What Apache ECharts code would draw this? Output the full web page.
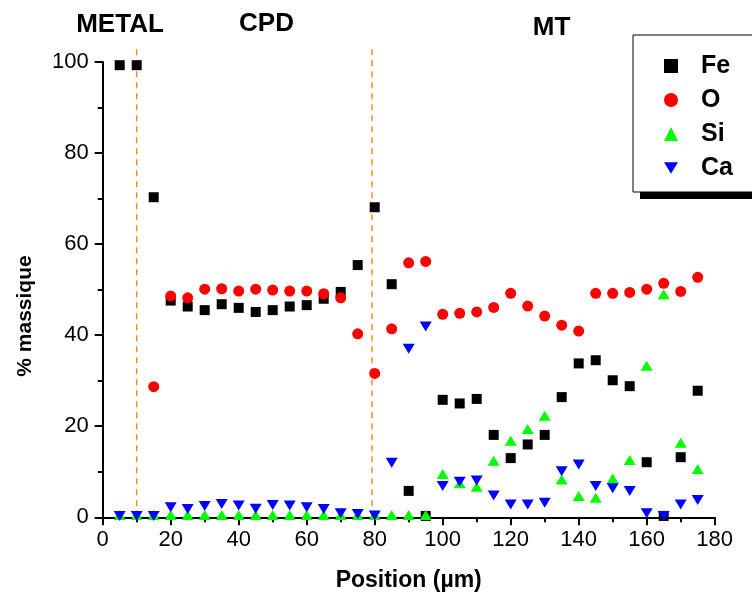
<!DOCTYPE html>
<html>
<head>
<meta charset="utf-8">
<script src="https://cdn.jsdelivr.net/npm/echarts@6/dist/echarts.min.js"></script>
<style>
html,body{margin:0;padding:0;background:#fff;}
#chart{width:752px;height:599px;}
</style>
</head>
<body>
<div id="chart"></div>
<script>
// ---- data ----
var positions = [5,10,15,20,25,30,35,40,45,50,55,60,65,70,75,80,85,90,95,100,105,110,115,120,125,130,135,140,145,150,155,160,165,170,175];
var fe = [99.3,99.3,70.3,47.6,46.3,45.5,46.8,46.0,45.1,45.5,46.3,46.6,48.0,49.5,55.4,68.1,51.2,5.8,0.3,25.8,25.0,26.0,18.1,13.0,16.0,18.1,26.4,33.8,34.5,30.1,28.8,12.1,0.3,13.2,27.8];
var o  = [null,null,28.7,48.6,48.2,50.1,50.2,49.7,50.1,49.9,49.7,49.7,49.1,48.2,40.3,31.6,41.4,55.9,56.2,44.6,44.8,45.1,46.1,49.2,46.4,44.2,42.2,40.9,49.2,49.2,49.4,50.1,51.4,49.6,52.7];
var si = [0.5,0.5,0.5,0.5,0.5,0.5,0.5,0.5,0.5,0.5,0.5,0.5,0.5,0.5,0.5,0.5,0.5,0.5,0.5,9.5,7.5,6.7,12.4,16.8,19.4,22.3,8.3,4.7,4.3,8.5,12.6,33.3,49.0,16.4,10.6];
var ca = [0.3,0.3,0.3,2.2,1.8,2.5,2.9,2.6,1.9,2.7,2.6,2.2,1.8,0.9,0.7,0.4,12.0,37.0,41.9,6.9,7.8,8.1,4.8,2.8,2.8,3.2,10.1,11.6,6.9,6.4,5.8,0.9,0.3,2.8,3.8];
var boundaries = [10, 79.2];
var regionLabels = ['METAL', 'CPD', 'MT'];
var xTicks = [0,20,40,60,80,100,120,140,160,180];
var yTicks = [0,20,40,60,80,100];

function pairs(arr){
  var out = [];
  for (var i = 0; i < positions.length; i++) {
    if (arr[i] !== null) out.push([positions[i], arr[i]]);
  }
  return out;
}

var FONT = 'Liberation Sans, Arial, sans-serif';
var chart = echarts.init(document.getElementById('chart'), null, {renderer:'canvas'});

var boundarySeries = boundaries.map(function(b){
  return {
    type:'line', data:[[b,0],[b,103]], clip:false, symbol:'none', silent:true,
    lineStyle:{color:'#FF8C1A', width:1.5, type:[6,5]}, z:1, legendHoverLink:false
  };
});

var option = {
  animation:false,
  backgroundColor:'#fff',
  grid:{left:102.7, right:37.3, top:62, bottom:81.7},
  xAxis:{
    type:'value', min:0, max:180, interval:20,
    axisLine:{show:true, onZero:false, lineStyle:{color:'#000', width:2}},
    axisTick:{show:true, length:8, lineStyle:{color:'#000', width:2}},
    minorTick:{show:true, splitNumber:2, length:5, lineStyle:{color:'#000', width:2}},
    splitLine:{show:false},
    axisLabel:{color:'#000', fontSize:22, fontFamily:FONT, margin:12,
      formatter:function(v){return xTicks.indexOf(v)>=0 ? String(v) : '';}},
    name:'Position (µm)', nameLocation:'middle', nameGap:52,
    nameTextStyle:{color:'#000', fontSize:23, fontWeight:'bold', fontFamily:FONT}
  },
  yAxis:{
    type:'value', min:0, max:100, interval:20,
    axisLine:{show:true, onZero:false, lineStyle:{color:'#000', width:2}},
    axisTick:{show:true, length:8, lineStyle:{color:'#000', width:2}},
    minorTick:{show:true, splitNumber:2, length:5, lineStyle:{color:'#000', width:2}},
    splitLine:{show:false},
    axisLabel:{color:'#000', fontSize:22, fontFamily:FONT, margin:14,
      formatter:function(v){return yTicks.indexOf(v)>=0 ? String(v) : '';}}
  },
  legend:{
    orient:'vertical', left:659, top:48,
    itemWidth:14, itemHeight:14, itemGap:8,
    data:['Fe','O','Si','Ca'],
    textStyle:{color:'#000', fontSize:25, fontWeight:'bold', fontFamily:FONT, lineHeight:26, padding:[0,0,0,18]}
  },
  graphic:[
    {type:'rect', shape:{x:640, y:42, width:130, height:157}, style:{fill:'#000'}, z:0, silent:true},
    {type:'rect', shape:{x:633, y:35, width:130, height:157}, style:{fill:'#fff', stroke:'#000', lineWidth:1}, z:0, silent:true},
    {type:'text', style:{text:regionLabels[0], x:120, y:25, textAlign:'center', textVerticalAlign:'middle', font:'bold 26px '+FONT, fill:'#000'}},
    {type:'text', style:{text:regionLabels[1], x:266.5, y:24, textAlign:'center', textVerticalAlign:'middle', font:'bold 26px '+FONT, fill:'#000'}},
    {type:'text', style:{text:regionLabels[2], x:551.5, y:28, textAlign:'center', textVerticalAlign:'middle', font:'bold 26px '+FONT, fill:'#000'}},
    {type:'text', rotation:Math.PI/2, x:25, y:316, style:{text:'% massique', textAlign:'center', textVerticalAlign:'middle', font:'bold 21px '+FONT, fill:'#000'}}
  ],
  series:[
    {name:'Fe', type:'scatter', data:pairs(fe), symbol:'rect', symbolSize:10, itemStyle:{color:'#000', opacity:1}, z:3},
    {name:'O', type:'scatter', data:pairs(o), symbol:'circle', symbolSize:11, itemStyle:{color:'#FF0000', opacity:1}, z:3},
    {name:'Si', type:'scatter', data:pairs(si), symbol:'triangle', symbolSize:[12,10], itemStyle:{color:'#00FF00', opacity:1}, z:3},
    {name:'Ca', type:'scatter', data:pairs(ca), symbol:'path://M0,0 L12,0 L6,10 Z', symbolSize:[12,10], itemStyle:{color:'#0000FF', opacity:1}, z:3}
  ].concat(boundarySeries)
};
chart.setOption(option);
</script>
</body>
</html>
